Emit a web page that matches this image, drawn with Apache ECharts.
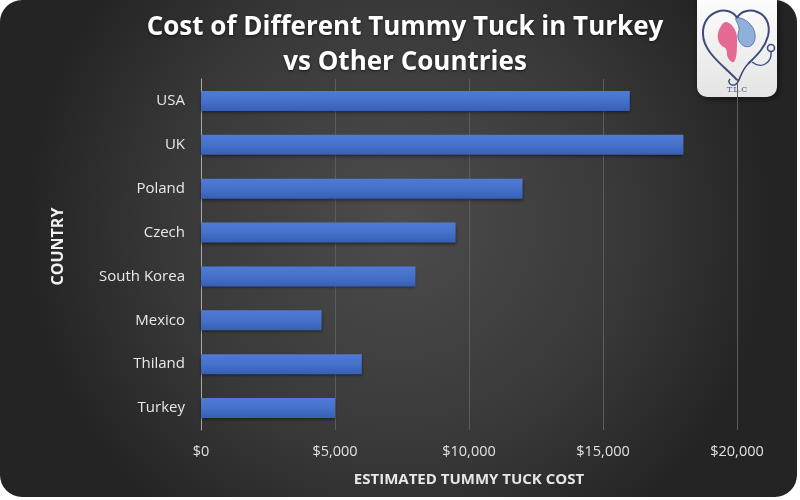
<!DOCTYPE html>
<html><head><meta charset="utf-8">
<script src="https://cdn.jsdelivr.net/npm/echarts@6/dist/echarts.min.js"></script>
<style>html,body{margin:0;padding:0;background:#fff}#c{width:800px;height:500px}</style>
</head><body><div id="c"></div>
<script>
const categories = ['USA','UK','Poland','Czech','South Korea','Mexico','Thiland','Turkey'];
const costs = [16000, 18000, 12000, 9500, 8000, 4500, 6000, 5000];
const tickValues = [0, 5000, 10000, 15000, 20000];
const titleLines = ['Cost of Different Tummy Tuck in Turkey', 'vs Other Countries'];

const chart = echarts.init(document.getElementById('c'), null, {renderer:'canvas'});
const stroke = {fill:'none', stroke:'#3d4a7a', lineWidth:2};
function bz(x1,y1,c1x,c1y,c2x,c2y,x2,y2,st){
  return {type:'bezierCurve', shape:{x1:x1,y1:y1,cpx1:c1x,cpy1:c1y,cpx2:c2x,cpy2:c2y,x2:x2,y2:y2}, style:st||stroke};
}
const option = {
  backgroundColor: '#ffffff',
  title: {
    text: titleLines.join('\n'),
    left: 400, top: 5, textAlign: 'center',
    textStyle: {color:'#ffffff', fontFamily:'Open Sans', fontWeight:'bold', fontSize:26, lineHeight:35,
      textShadowColor:'rgba(0,0,0,0.6)', textShadowBlur:3, textShadowOffsetY:1}
  },
  graphic: [
    {type:'rect', z:-10, silent:true, shape:{x:0,y:0,width:797,height:497,r:22},
     style:{fill:{type:'radial',x:0.5,y:0.45,r:0.75,colorStops:[{offset:0,color:'#4c4c4c'},{offset:0.6,color:'#393939'},{offset:1,color:'#242424'}]}}},
    {type:'group', z:100, children:[
      {type:'rect', shape:{x:697,y:-12,width:80,height:109,r:10},
       style:{fill:{type:'linear',x:0,y:0,x2:0,y2:1,colorStops:[{offset:0,color:'#ffffff'},{offset:1,color:'#e4e4e4'}]}, shadowColor:'rgba(0,0,0,0.5)', shadowBlur:6, shadowOffsetX:2, shadowOffsetY:2}},
      {type:'polygon', shape:{smooth:0.4, points:[[726,22],[719,30],[718,39],[721,45],[726,49],[728,58],[734,62],[737,46],[735,30]]}, style:{fill:'#e46a93'}},
      {type:'polygon', shape:{smooth:0.4, points:[[736,18],[748,22],[755,34],[752,45],[744,46],[738,38],[739,28]]}, style:{fill:'#8fb0d8', stroke:'#4a6aa8', lineWidth:0.8}},
      bz(737,80, 724,66, 703,52, 703,34),
      bz(703,34, 702,10, 730,4, 737,18),
      bz(737,18, 744,4, 774,10, 768,36),
      bz(768,36, 765,48, 756,56, 748,64),
      bz(748,64, 742,70, 740,78, 738,82, {fill:'none', stroke:'#3d4a7a', lineWidth:1.6}),
      bz(738,82, 734,88, 726,84, 730,79, {fill:'none', stroke:'#3d4a7a', lineWidth:1.4}),
      bz(771,52, 772,62, 762,70, 752,62, {fill:'none', stroke:'#3d4a7a', lineWidth:1.4}),
      {type:'circle', shape:{cx:771,cy:48,r:3.5}, style:{fill:'none', stroke:'#3d4a7a', lineWidth:1.6}},
      {type:'text', style:{x:737, y:90, text:'T.L.C', fill:'#4a5a88', fontSize:8, fontFamily:'DejaVu Serif', align:'center', verticalAlign:'middle'}}
    ]}
  ],
  grid: {left:201, right:63, top:79, bottom:70, containLabel:false},
  xAxis: {
    type:'value', min:tickValues[0], max:tickValues[tickValues.length-1], interval:tickValues[1]-tickValues[0],
    axisLine:{show:false}, axisTick:{show:false},
    splitLine:{show:true, lineStyle:{color:'#5c5c5c', width:1}},
    axisLabel:{color:'#e0e0e0', fontSize:14.5, fontFamily:'Open Sans', margin:14,
      formatter: v => '$' + v.toLocaleString('en-US')},
    name:'ESTIMATED TUMMY TUCK COST', nameLocation:'middle', nameGap:42,
    nameTextStyle:{color:'#e6e6e6', fontSize:15, fontWeight:'bold', fontFamily:'Open Sans'}
  },
  yAxis: {
    type:'category', data:categories, inverse:true,
    axisLine:{show:true, lineStyle:{color:'#a8a8a8', width:1}}, axisTick:{show:false},
    axisLabel:{color:'#e8e8e8', fontSize:15, fontFamily:'Open Sans', margin:16},
    name:'COUNTRY', nameLocation:'middle', nameGap:135, nameRotate:90,
    nameTextStyle:{color:'#f0f0f0', fontSize:16, fontWeight:'bold', fontFamily:'Open Sans', padding:[0,0,0,16]}
  },
  series: [{
    type:'bar', data:costs, barWidth:20,
    itemStyle:{color:{type:'linear',x:0,y:0,x2:0,y2:1,colorStops:[{offset:0,color:'#4f7bd6'},{offset:0.5,color:'#4571cb'},{offset:1,color:'#3760b4'}]},
      shadowColor:'rgba(0,0,0,0.45)', shadowBlur:3, shadowOffsetY:2},
    animation:false
  }],
  animation:false
};
chart.setOption(option);
</script></body></html>
